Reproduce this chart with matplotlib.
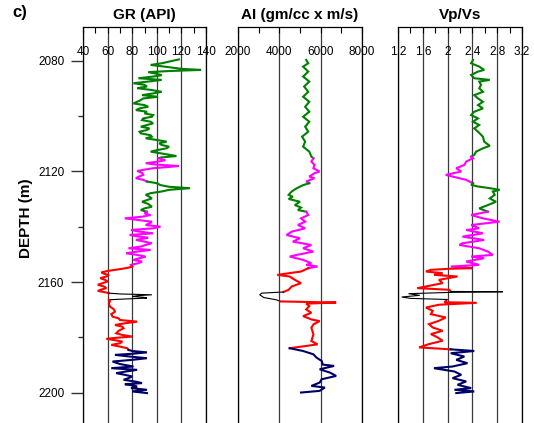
import matplotlib
matplotlib.use("Agg")
import matplotlib.pyplot as plt
from matplotlib.ticker import FixedLocator, MultipleLocator

plt.rcParams['font.family'] = ['Liberation Sans', 'DejaVu Sans']

# ---- data (depth in m, log value) ----
seg_colors = ['#008000', '#ff00ff', '#008000', '#ff00ff', '#ff0000', '#000000', '#ff0000', '#000066']

# GR (API)
gr1_d = [2079.6, 2080.2, 2081.0, 2081.6, 2082.3, 2083.0, 2083.4, 2083.8, 2084.2, 2084.8, 2085.3, 2085.8,
         2086.4, 2087.0, 2087.5, 2088.2, 2088.8, 2089.4, 2090.0, 2090.6, 2091.3, 2091.9, 2092.5, 2093.1,
         2093.7, 2094.5, 2095.5, 2096.1, 2096.7, 2097.3, 2097.9, 2098.5, 2099.1, 2099.7, 2100.3, 2100.9,
         2101.5, 2102.1, 2102.7, 2103.3, 2103.9, 2104.5, 2105.1, 2105.7, 2106.3, 2107.0, 2107.5, 2108.1,
         2108.7, 2109.3, 2109.9, 2110.5, 2111.1, 2111.7, 2112.3, 2112.9, 2113.5, 2114.5, 2115.0, 2115.3]
gr1_v = [118, 112, 104, 95, 108, 120, 136, 110, 93, 100, 104, 97, 85, 104, 95, 81, 90, 92, 84, 95,
         104, 97, 88, 101, 89, 86, 81, 90, 93, 86, 83, 92, 90, 97, 96, 89, 88, 95, 97, 92,
         87, 94, 92, 86, 87, 95, 96, 91, 100, 108, 102, 104, 110, 108, 101, 95, 103, 116, 104, 101]
gr2_d = [2115.3, 2116.0, 2116.5, 2117.1, 2117.6, 2118.1, 2118.5, 2118.9, 2119.4, 2119.9, 2120.6, 2121.3,
         2122.0, 2122.5, 2123.1, 2123.7]
gr2_v = [101, 107, 101, 91, 100, 118, 108, 97, 90, 84, 88, 89, 85, 83, 89, 92]
gr3_d = [2123.7, 2124.3, 2125.0, 2125.6, 2126.1, 2126.7, 2127.3, 2127.9, 2128.5, 2129.2, 2129.8, 2130.4,
         2131.0, 2131.8, 2132.8, 2133.4, 2134.0, 2134.6]
gr3_v = [92, 100, 103, 110, 127, 110, 104, 95, 91, 94, 96, 92, 88, 93, 96, 90, 87, 92]
gr4_d = [2134.6, 2135.2, 2135.8, 2136.4, 2137.0, 2137.6, 2138.2, 2138.8, 2139.4, 2140.0, 2140.6, 2141.2,
         2141.8, 2142.4, 2143.0, 2143.5, 2144.0, 2144.4, 2144.8, 2145.4, 2146.0, 2146.6, 2147.2, 2147.8,
         2148.4, 2149.0, 2149.6, 2150.2, 2150.8, 2151.4, 2152.0, 2152.6, 2153.2, 2153.8, 2154.4]
gr4_v = [92, 90, 95, 88, 74, 85, 96, 94, 91, 103, 97, 79, 86, 97, 78, 84, 93, 88, 83, 90,
         96, 91, 87, 77, 95, 84, 75, 84, 91, 86, 81, 88, 85, 79, 80]
gr5_d = [2154.4, 2154.8, 2155.2, 2155.6, 2156.0, 2156.5, 2157.0, 2157.4, 2158.0, 2158.6, 2159.2, 2159.8,
         2160.4, 2161.0, 2161.6, 2162.2, 2162.7, 2163.2, 2163.6, 2164.0]
gr5_v = [80, 77, 72, 66, 60, 55, 57, 61, 59, 54, 58, 60, 56, 52, 57, 59, 55, 52, 57, 61]
gr6_d = [2164.0, 2164.3, 2164.6, 2164.9, 2165.2, 2165.5, 2165.8, 2166.1, 2166.4]
gr6_v = [61, 70, 96, 85, 80, 89, 92, 75, 61]
gr7_d = [2166.4, 2166.8, 2167.8, 2168.9, 2169.8, 2170.7, 2171.6, 2172.5, 2173.1, 2173.7, 2174.3, 2174.9,
         2175.5, 2176.1, 2176.7, 2177.6, 2178.5, 2179.1, 2179.7, 2180.1, 2180.5, 2181.0, 2181.5, 2182.1,
         2182.7, 2183.3, 2183.9, 2184.5]
gr7_v = [61, 62, 61, 62, 65, 66, 63, 64, 69, 70, 84, 74, 66, 72, 73, 69, 67, 72, 80, 68,
         59, 66, 72, 70, 63, 70, 76, 77]
gr8_d = [2184.5, 2184.9, 2185.4, 2185.9, 2186.3, 2186.9, 2187.5, 2188.1, 2188.7, 2189.6, 2190.5, 2191.1,
         2191.7, 2192.3, 2192.9, 2193.5, 2194.1, 2194.7, 2195.3, 2195.9, 2196.5, 2196.9, 2197.3, 2197.7,
         2198.3, 2198.9, 2199.5, 2200.1]
gr8_v = [77, 80, 92, 80, 66, 78, 92, 80, 64, 70, 81, 63, 84, 75, 67, 74, 80, 77, 73, 82,
         88, 74, 80, 84, 79, 92, 80, 92]

# AI (gm/cc x m/s)
ai1_d = [2079.8, 2081.0, 2082.2, 2084.0, 2085.8, 2087.6, 2089.4, 2091.3, 2093.1, 2094.9, 2096.7, 2098.5,
         2100.3, 2102.1, 2103.9, 2105.7, 2107.5, 2109.3, 2111.1, 2112.9, 2114.7, 2115.3]
ai1_v = [5300, 5400, 5150, 5400, 5150, 5450, 5200, 5400, 5150, 5450, 5250, 5450,
         5150, 5450, 5250, 5400, 5100, 5250, 5150, 5450, 5550, 5650]
ai2_d = [2115.3, 2116.5, 2117.7, 2118.9, 2120.1, 2120.7, 2121.9, 2122.5, 2123.7, 2124.3]
ai2_v = [5650, 5550, 5700, 5650, 5950, 5700, 5450, 5700, 5300, 5450]
ai3_d = [2124.3, 2125.0, 2126.1, 2127.3, 2128.5, 2129.2, 2130.0, 2131.0, 2132.2, 2133.1, 2134.0, 2134.6]
ai3_v = [5450, 5150, 4850, 4600, 4450, 4650, 4450, 5000, 4750, 5050, 4900, 5300]
ai4_d = [2134.6, 2135.8, 2137.0, 2138.2, 2139.4, 2140.6, 2141.8, 2143.0, 2144.2, 2145.4, 2146.6, 2147.8,
         2149.0, 2150.2, 2150.8, 2152.0, 2153.2, 2153.8, 2154.4, 2155.0]
ai4_v = [5300, 5400, 5050, 5250, 4900, 5250, 4600, 4350, 5000, 4650, 5550, 5150,
         5650, 4850, 4500, 5150, 5550, 5300, 5850, 5400]
ai5_d = [2155.0, 2156.2, 2157.4, 2158.0, 2159.2, 2160.4, 2161.6, 2162.8, 2163.6]
ai5_v = [5400, 5050, 3900, 4500, 4750, 5050, 4600, 4450, 4200]
ai6_d = [2163.6, 2164.0, 2164.6, 2165.6, 2166.4, 2167.0]
ai6_v = [4200, 3150, 3050, 3250, 3850, 4050]
ai7_d = [2167.0, 2167.4, 2167.8, 2168.7, 2169.9, 2171.1, 2172.3, 2173.5, 2174.1, 2175.3, 2176.5, 2178.9,
         2181.3, 2182.5, 2183.9]
ai7_v = [4050, 6750, 5300, 5450, 5300, 5550, 5150, 5550, 5950, 5650, 5550, 5650, 5550, 5850, 4500]
ai8_d = [2183.9, 2184.9, 2186.1, 2187.3, 2188.5, 2189.8, 2190.3, 2191.5, 2192.7, 2193.9, 2195.1, 2196.3,
         2197.5, 2198.1, 2199.3, 2199.9]
ai8_v = [4500, 5150, 5650, 5800, 6050, 6100, 6650, 5950, 6450, 6750, 6050, 5950, 5550, 6200, 5950, 5050]

# Vp/Vs
vr1_d = [2079.8, 2081.0, 2082.2, 2083.4, 2084.0, 2085.2, 2086.4, 2087.0, 2087.6, 2088.8, 2090.0, 2091.3,
         2092.5, 2093.7, 2094.9, 2096.1, 2097.3, 2098.5, 2099.7, 2100.9, 2102.1, 2103.3, 2104.5, 2105.7,
         2107.5, 2109.3, 2110.8, 2111.7, 2112.9, 2114.1, 2114.7]
vr1_v = [2.41, 2.38, 2.51, 2.59, 2.49, 2.38, 2.43, 2.68, 2.51, 2.54, 2.51, 2.57, 2.43, 2.49, 2.57, 2.49,
         2.57, 2.43, 2.38, 2.49, 2.41, 2.51, 2.43, 2.49, 2.57, 2.59, 2.68, 2.57, 2.46, 2.43, 2.38]
vr2_d = [2114.7, 2115.3, 2116.5, 2117.7, 2118.9, 2120.1, 2121.3, 2122.5, 2123.1, 2123.7, 2124.3]
vr2_v = [2.38, 2.41, 2.30, 2.27, 2.14, 2.22, 1.97, 2.19, 2.30, 2.35, 2.41]
vr3_d = [2124.3, 2124.9, 2125.5, 2126.1, 2126.7, 2127.3, 2128.5, 2129.8, 2131.0, 2132.2, 2133.4, 2134.6]
vr3_v = [2.41, 2.38, 2.49, 2.68, 2.84, 2.73, 2.76, 2.68, 2.78, 2.65, 2.51, 2.65]
vr4_d = [2134.6, 2135.8, 2137.0, 2138.2, 2139.4, 2140.6, 2141.2, 2142.4, 2143.6, 2144.8, 2146.0, 2146.6,
         2147.8, 2149.0, 2150.2, 2150.8, 2151.4, 2152.6, 2153.8, 2154.4, 2155.0]
vr4_v = [2.65, 2.38, 2.57, 2.84, 2.38, 2.51, 2.30, 2.57, 2.24, 2.59, 2.24, 2.19, 2.51, 2.65, 2.73, 2.38,
         2.59, 2.30, 2.51, 2.05, 2.38]
vr5_d = [2155.0, 2155.2, 2155.6, 2156.2, 2156.8, 2157.4, 2158.0, 2159.2, 2160.4, 2161.6, 2162.2, 2162.8, 2163.4]
vr5_v = [2.38, 2.03, 1.73, 1.65, 1.92, 1.78, 2.16, 1.86, 1.92, 1.65, 1.51, 2.03, 2.05]
vr6_d = [2163.4, 2163.5, 2163.7, 2164.2, 2164.8, 2165.4, 2165.9, 2166.3, 2166.8]
vr6_v = [2.05, 2.89, 2.10, 1.37, 1.55, 1.26, 1.40, 2.00, 1.97]
vr7_d = [2166.8, 2167.3, 2167.5, 2168.2, 2169.2, 2170.4, 2171.6, 2172.8, 2174.0, 2175.2, 2176.4, 2177.6,
         2178.8, 2180.0, 2181.2, 2182.4, 2183.6, 2184.3]
vr7_v = [1.97, 1.95, 2.47, 1.86, 1.65, 1.76, 1.73, 1.97, 1.86, 1.70, 1.76, 1.92, 1.73, 1.84, 1.92, 1.70,
         1.54, 2.05]
vr8_d = [2184.3, 2184.9, 2185.7, 2186.9, 2188.1, 2189.3, 2190.5, 2191.1, 2192.3, 2193.5, 2194.7, 2195.9,
         2197.1, 2198.3, 2198.9, 2199.5, 2200.1]
vr8_v = [2.05, 2.43, 2.05, 2.27, 2.14, 2.32, 2.08, 1.78, 2.11, 2.22, 2.08, 2.30, 2.16, 2.38, 2.11, 2.43, 2.14]

gr_ticks = [40, 60, 80, 100, 120, 140]
ai_ticks = [2000, 4000, 6000, 8000]
vr_ticks = [1.2, 1.6, 2.0, 2.4, 2.8, 3.2]
vr_labels = ['1.2', '1.6', '2', '2.4', '2.8', '3.2']
depth_major = [2080, 2120, 2160, 2200]
depth_minor = [2100, 2140, 2180]

W, H = 534, 423
fig = plt.figure(figsize=(W / 100, H / 100), dpi=100)


def track(left_px, width_px, ticks, labels, minor, title, segs):
    ax = fig.add_axes([left_px / W, 0.0, width_px / W, 1 - 27 / H])
    for (d, v), c in zip(segs, seg_colors):
        lw = 0.8 if c == '#000000' else 1.5
        ax.plot(v, d, color=c, lw=lw, solid_joinstyle='miter')
    ax.set_xlim(ticks[0], ticks[-1])
    ax.set_ylim(2210.9, 2067.9)
    ax.xaxis.set_major_locator(FixedLocator(ticks))
    ax.set_xticklabels(labels)
    ax.xaxis.set_minor_locator(MultipleLocator(minor))
    ax.xaxis.tick_top()
    ax.tick_params(axis='x', which='both', direction='in', top=True, bottom=False,
                   labeltop=True, labelbottom=False, pad=-22, labelsize=8.5,
                   length=4.5, width=0.8)
    ax.grid(axis='x', which='major', color='#3a3a3a', lw=0.9)
    ax.spines['bottom'].set_visible(False)
    for s in ['top', 'left', 'right']:
        ax.spines[s].set_linewidth(0.9)
    ax.set_title(title, fontsize=11, fontweight='bold', pad=5.5)
    return ax


ax1 = track(83, 123, gr_ticks, [str(t) for t in gr_ticks], 10, 'GR (API)',
            [(gr1_d, gr1_v), (gr2_d, gr2_v), (gr3_d, gr3_v), (gr4_d, gr4_v),
             (gr5_d, gr5_v), (gr6_d, gr6_v), (gr7_d, gr7_v), (gr8_d, gr8_v)])
ax2 = track(238, 124, ai_ticks, [str(t) for t in ai_ticks], 1000, 'AI (gm/cc x m/s)',
            [(ai1_d, ai1_v), (ai2_d, ai2_v), (ai3_d, ai3_v), (ai4_d, ai4_v),
             (ai5_d, ai5_v), (ai6_d, ai6_v), (ai7_d, ai7_v), (ai8_d, ai8_v)])
ax3 = track(398, 124, vr_ticks, vr_labels, 0.2, 'Vp/Vs',
            [(vr1_d, vr1_v), (vr2_d, vr2_v), (vr3_d, vr3_v), (vr4_d, vr4_v),
             (vr5_d, vr5_v), (vr6_d, vr6_v), (vr7_d, vr7_v), (vr8_d, vr8_v)])

ax1.yaxis.set_major_locator(FixedLocator(depth_major))
ax1.yaxis.set_minor_locator(FixedLocator(depth_minor))
ax1.tick_params(axis='y', which='major', direction='out', length=8.5, width=1.0,
                labelsize=8.5, pad=5, color='#333333')
ax1.tick_params(axis='y', which='minor', direction='out', length=3.6, width=1.0, color='#333333')
for ax in (ax2, ax3):
    ax.set_yticks([])
    ax.tick_params(axis='y', which='both', left=False)

fig.text(20 / W, 1 - 12.5 / H, 'c)', fontsize=12, fontweight='bold', ha='center', va='center')
fig.text(26 / W, 1 - 218 / H, 'DEPTH (m)', fontsize=11, fontweight='bold', rotation=90,
         ha='center', va='center')

fig.savefig('out.png', dpi=100)
